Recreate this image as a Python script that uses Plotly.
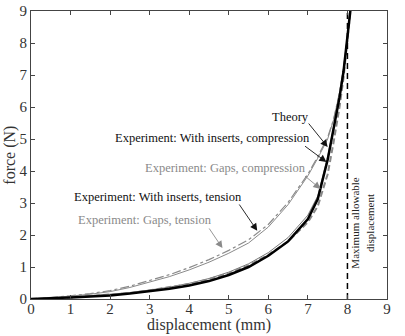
import plotly.graph_objects as go

# displacement grid (mm)
disp = [0, 0.5, 1, 1.5, 2, 2.5, 3, 3.5, 4, 4.5, 5, 5.5, 6, 6.5, 7, 7.25, 7.5, 7.65, 7.8, 7.9, 8.0, 8.1]

theory = [0, 0.02, 0.06, 0.10, 0.14, 0.20, 0.28, 0.37, 0.49, 0.64, 0.84, 1.10, 1.45, 1.92, 2.62, 3.22, 4.45, 5.35, 6.3, 7.1, 8.1, 9.3]
inserts_compression = [0, 0.015, 0.05, 0.08, 0.11, 0.17, 0.24, 0.32, 0.42, 0.56, 0.75, 1.00, 1.35, 1.80, 2.50, 3.12, 4.35, 5.30, 6.3, 7.1, 8.1, 9.3]
gaps_compression = [0, 0.02, 0.05, 0.09, 0.13, 0.19, 0.27, 0.36, 0.47, 0.62, 0.80, 1.05, 1.38, 1.80, 2.40, 2.90, 3.90, 4.90, 6.0, 6.9, 8.0, 9.3]
inserts_tension = [0, 0.04, 0.09, 0.15, 0.23, 0.36, 0.52, 0.70, 0.91, 1.15, 1.43, 1.75, 2.25, 2.95, 3.85, 4.40, 5.00, 5.60, 6.45, 7.2, 8.2, 9.4]
gaps_tension = [0, 0.045, 0.10, 0.17, 0.26, 0.40, 0.57, 0.76, 0.98, 1.23, 1.52, 1.85, 2.33, 3.02, 3.90, 4.45, 5.05, 5.62, 6.45, 7.2, 8.2, 9.4]

max_disp = 8
x_ticks = list(range(0, 10))
y_ticks = list(range(0, 10))

FONT = "Liberation Serif"

fig = go.Figure()
fig.add_trace(go.Scatter(x=disp, y=inserts_tension, mode="lines", line=dict(color="#8a8a8a", width=1)))
fig.add_trace(go.Scatter(x=disp, y=gaps_tension, mode="lines", line=dict(color="#8a8a8a", width=1.2, dash="dashdot")))
fig.add_trace(go.Scatter(x=disp, y=theory, mode="lines", line=dict(color="#777777", width=1)))
fig.add_trace(go.Scatter(x=disp, y=gaps_compression, mode="lines", line=dict(color="#888888", width=2, dash="6px,3px")))
fig.add_trace(go.Scatter(x=disp, y=inserts_compression, mode="lines", line=dict(color="black", width=2.5)))
fig.add_trace(go.Scatter(x=[max_disp, max_disp], y=[0, 9], mode="lines", line=dict(color="black", width=1.5, dash="6px,4px")))

labels = [
    ("Theory", 6.56, 5.69, "#111", 6.99, 5.53, 7.50, 4.75, "#111"),
    ("Experiment: With inserts, compression", 4.58, 5.03, "#111", 6.89, 4.81, 7.47, 4.28, "#111"),
    ("Experiment: Gaps, compression", 4.91, 4.09, "#8a8a8a", 6.89, 3.88, 7.32, 3.44, "#8a8a8a"),
    ("Experiment: With inserts, tension", 3.22, 3.19, "#111", 5.24, 3.00, 5.72, 2.13, "#111"),
    ("Experiment: Gaps, tension", 2.89, 2.47, "#8a8a8a", 4.48, 2.25, 4.84, 1.59, "#8a8a8a"),
]
for text, tx, ty, tc, axx, ayy, hx, hy, ac in labels:
    fig.add_annotation(x=tx, y=ty, text=text, showarrow=False,
                       font=dict(family=FONT, size=12.5, color=tc))
    fig.add_annotation(x=hx, y=hy, ax=axx, ay=ayy, axref="x", ayref="y", text="",
                       showarrow=True, arrowhead=2, arrowsize=1.6, arrowwidth=0.9,
                       arrowcolor=ac)

fig.add_annotation(x=8.38, y=2.37, text="Maximum allowable<br>displacement", showarrow=False,
                   textangle=-90, font=dict(family=FONT, size=11, color="#222"))

fig.add_annotation(xref="paper", yref="paper", x=0.5, y=-0.092, yanchor="middle",
                   text="displacement (mm)", showarrow=False,
                   font=dict(family=FONT, size=16, color="#333"))
fig.add_annotation(xref="paper", yref="paper", x=-0.06, y=0.5, xanchor="center",
                   text="force (N)", showarrow=False, textangle=-90,
                   font=dict(family=FONT, size=16, color="#333"))

axis_common = dict(showline=True, linecolor="#444", linewidth=1, mirror="ticks",
                   ticks="inside", ticklen=4, tickcolor="#444", showgrid=False,
                   zeroline=False, automargin=False,
                   tickfont=dict(family=FONT, size=15, color="#333"))
fig.update_xaxes(range=[0, 9], tickvals=x_ticks, ticklabelstandoff=-4, **axis_common)
fig.update_yaxes(range=[0, 9], tickvals=y_ticks, **axis_common)

fig.update_layout(width=405, height=336, margin=dict(l=31, r=18, t=11, b=37),
                  plot_bgcolor="white", paper_bgcolor="white", showlegend=False)

fig.write_html("out.html")
